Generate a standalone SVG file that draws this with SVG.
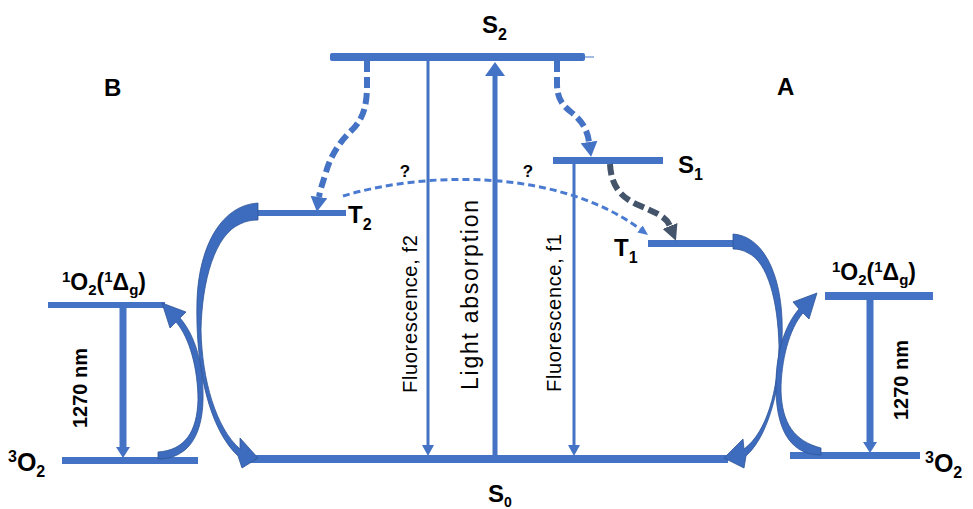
<svg xmlns="http://www.w3.org/2000/svg" width="973" height="509" viewBox="0 0 973 509">
<defs>
<style>
.bar{fill:#4472C4}
.lbl{font-family:"Liberation Sans",Arial,sans-serif;font-weight:bold;fill:#000}
.vt{font-family:"Liberation Sans",Arial,sans-serif;fill:#000}
.ln{stroke:#4472C4;fill:none}
.dash{stroke:#4472C4;fill:none;stroke-width:6;stroke-dasharray:11 5}
.dark{stroke:#44546A;fill:none;stroke-width:6;stroke-dasharray:11 5}
.q{stroke:#4A7BD0;fill:none;stroke-width:3;stroke-dasharray:7 4}
.crv{fill:#3D6BBE;stroke:#2F5597;stroke-width:0.8}
</style>
<marker id="hf" markerUnits="userSpaceOnUse" viewBox="0 0 11 12" refX="0" refY="6" markerWidth="11" markerHeight="12" orient="auto"><path d="M0,0 L11,6 L0,12 Z" fill="#4472C4"/></marker>
<marker id="hl" markerUnits="userSpaceOnUse" viewBox="0 0 14 20" refX="0" refY="10" markerWidth="14" markerHeight="20" orient="auto"><path d="M0,0 L14,10 L0,20 Z" fill="#4472C4"/></marker>
<marker id="hn" markerUnits="userSpaceOnUse" viewBox="0 0 11 14" refX="0" refY="7" markerWidth="11" markerHeight="14" orient="auto"><path d="M0,0 L11,7 L0,14 Z" fill="#4472C4"/></marker>
<marker id="hd" markerUnits="userSpaceOnUse" viewBox="0 0 15 17" refX="0" refY="8.5" markerWidth="15" markerHeight="17" orient="auto"><path d="M0,0 L15,8.5 L0,17 Z" fill="#4472C4"/></marker>
<marker id="hk" markerUnits="userSpaceOnUse" viewBox="0 0 16 16" refX="0" refY="8" markerWidth="16" markerHeight="16" orient="auto"><path d="M0,0 L16,8 L0,16 Z" fill="#44546A"/></marker>
<marker id="hq" markerUnits="userSpaceOnUse" viewBox="0 0 10 9" refX="0" refY="4.5" markerWidth="10" markerHeight="9" orient="auto"><path d="M0,0 L10,4.5 L0,9 Z" fill="#4A7BD0"/></marker>
</defs>
<rect width="973" height="509" fill="#fff"/>

<g id="S2">
<rect class="bar" x="330" y="53" width="255" height="8" rx="2"/>
<line x1="585" y1="57" x2="594" y2="57" stroke="#4472C4" stroke-width="1"/>
<text class="lbl" x="482" y="33" font-size="24">S<tspan font-size="16" dy="7">2</tspan></text>
</g>
<g id="S1">
<rect class="bar" x="553" y="157" width="110" height="7"/>
<text class="lbl" x="678" y="173" font-size="24">S<tspan font-size="16" dy="7">1</tspan></text>
</g>
<g id="T2">
<rect class="bar" x="257" y="210" width="89" height="6"/>
<text class="lbl" x="348" y="223" font-size="24">T<tspan font-size="16" dy="7">2</tspan></text>
</g>
<g id="T1">
<rect class="bar" x="648" y="240" width="87" height="7"/>
<text class="lbl" x="614" y="256" font-size="24">T<tspan font-size="16" dy="7">1</tspan></text>
</g>
<g id="S0">
<rect class="bar" x="245" y="455" width="483" height="8"/>
<text class="lbl" x="488" y="502" font-size="24">S<tspan font-size="14" dy="5">0</tspan></text>
</g>
<g id="O2-singlet-B">
<rect class="bar" x="48" y="302" width="117" height="6"/>
<text class="lbl" x="62" y="290" font-size="23"><tspan font-size="15" dy="-8">1</tspan><tspan dy="8">O</tspan><tspan font-size="15" dy="5">2</tspan><tspan dy="-5">(</tspan><tspan font-size="15" dy="-8">1</tspan><tspan dy="8">Δ</tspan><tspan font-size="15" dy="5">g</tspan><tspan dy="-5">)</tspan></text>
</g>
<g id="O2-triplet-B">
<rect class="bar" x="62" y="457" width="136" height="7"/>
<text class="lbl" x="8" y="471" font-size="25"><tspan font-size="16" dy="-9">3</tspan><tspan dy="9">O</tspan><tspan font-size="16" dy="6">2</tspan></text>
</g>
<g id="O2-singlet-A">
<rect class="bar" x="825" y="292" width="108" height="8"/>
<text class="lbl" x="832" y="280" font-size="23"><tspan font-size="15" dy="-8">1</tspan><tspan dy="8">O</tspan><tspan font-size="15" dy="5">2</tspan><tspan dy="-5">(</tspan><tspan font-size="15" dy="-8">1</tspan><tspan dy="8">Δ</tspan><tspan font-size="15" dy="5">g</tspan><tspan dy="-5">)</tspan></text>
</g>
<g id="O2-triplet-A">
<rect class="bar" x="790" y="452" width="130" height="7"/>
<text class="lbl" x="925" y="472" font-size="25"><tspan font-size="16" dy="-9">3</tspan><tspan dy="9">O</tspan><tspan font-size="16" dy="6">2</tspan></text>
</g>
<g id="label-B"><text class="lbl" x="104" y="96" font-size="24">B</text></g>
<g id="label-A"><text class="lbl" x="777" y="95" font-size="24">A</text></g>

<g id="connectors">
<line class="ln" x1="428" y1="61" x2="428" y2="445" stroke-width="3" marker-end="url(#hf)"/>
<line class="ln" x1="574" y1="164" x2="574" y2="445" stroke-width="3" marker-end="url(#hf)"/>
<line class="ln" x1="495" y1="456" x2="495" y2="76" stroke-width="5" marker-end="url(#hl)"/>
<line class="ln" x1="123" y1="308" x2="123" y2="447" stroke-width="7" marker-end="url(#hn)"/>
<line class="ln" x1="870" y1="300" x2="870" y2="442" stroke-width="7" marker-end="url(#hn)"/>
<path class="dash" d="M367,61 L367,86 C367,108 362,120 352,130 C338,143 330,158 326,172 C323,182 320,190 319,197" marker-end="url(#hd)"/>
<path class="dash" d="M557,61 L557,84 C557,98 562,105 571,112 C581,120 587,128 589,142" marker-end="url(#hd)"/>
<path class="dark" d="M610,164 C611,184 619,196 636,204 C654,212 666,216 670,226" marker-end="url(#hk)"/>
<path class="q" d="M343,196 C430,170 560,170 640,229" marker-end="url(#hq)"/>
<path class="crv" d="M258,203 C222,205 199,245 197,300 C195,370 210,430 238,456 L242,468 L258,458 L240,438 L240,449 C216,428 202,380 201,330 C202,280 215,235 240,224 C246,221 252,220 258,220 Z"/>
<path class="crv" d="M158,459 C185,459 202,440 203,400 C204,365 195,335 180,318 L186,312 L162,303 L170,328 L176,322 C190,338 198,370 198,400 C197,432 185,450 158,452 Z"/>
<path class="crv" d="M733,234 C762,236 780,271 782,319 C784,372 772,433 746,456 L744,468 L724,458 L743,439 L744,449 C767,432 778,390 779,346 C778,302 768,262 748,253 C743,250 738,249 733,249 Z"/>
<path class="crv" d="M821,455 C794,455 777,435 776,391 C775,356 784,326 799,309 L793,302 L817,293 L809,319 L803,313 C789,329 781,361 781,391 C782,423 794,441 821,448 Z"/>
<text class="vt" transform="translate(417,314) rotate(-90)" font-size="20" text-anchor="middle" textLength="158">Fluorescence, f2</text>
<text class="vt" transform="translate(478,295) rotate(-90)" font-size="23" text-anchor="middle" textLength="190">Light absorption</text>
<text class="vt" transform="translate(561,313) rotate(-90)" font-size="20" text-anchor="middle" textLength="158">Fluorescence, f1</text>
<text class="lbl" transform="translate(87,388) rotate(-90)" font-size="20" text-anchor="middle">1270 nm</text>
<text class="lbl" transform="translate(908,380) rotate(-90)" font-size="20" text-anchor="middle">1270 nm</text>
<text class="lbl" x="405" y="177" font-size="17" text-anchor="middle">?</text>
<text class="lbl" x="528" y="177" font-size="17" text-anchor="middle">?</text>
</g>
</svg>
